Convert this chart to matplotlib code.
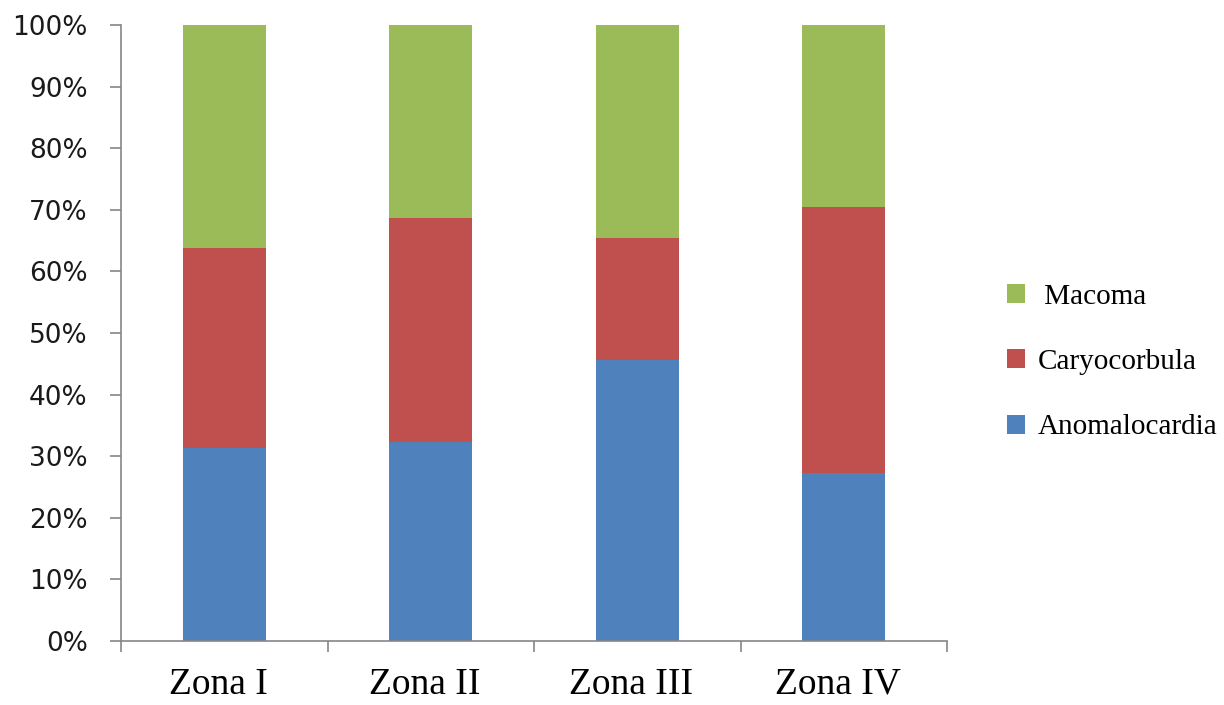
import numpy as np
import matplotlib.pyplot as plt
from matplotlib.ticker import FixedLocator, NullFormatter

# Composição relativa (%) por zona
zonas = ["Zona I", "Zona II", "Zona III", "Zona IV"]
anomalocardia = [31.3, 32.3, 45.6, 27.3]
caryocorbula = [32.5, 36.4, 19.8, 43.2]
macoma = [36.2, 31.3, 34.6, 29.5]

cor_azul = "#4f81bd"
cor_vermelho = "#c0504d"
cor_verde = "#9bbb59"
cor_eixo = "#868686"

fig = plt.figure(figsize=(12.24, 7.05), dpi=100)
ax = fig.add_axes([121 / 1224, 64 / 705, 826 / 1224, 616 / 705])

x = np.arange(len(zonas))
base2 = np.array(anomalocardia)
base3 = base2 + np.array(caryocorbula)

b1 = ax.bar(x, anomalocardia, width=0.40, color=cor_azul, label="Anomalocardia")
b2 = ax.bar(x, caryocorbula, width=0.40, bottom=base2, color=cor_vermelho, label="Caryocorbula")
b3 = ax.bar(x, macoma, width=0.40, bottom=base3, color=cor_verde, label="Macoma")

ax.set_xlim(-0.5, len(zonas) - 0.5)
ax.set_ylim(0, 100)

# eixo y em percentagem
ax.set_yticks(np.arange(0, 101, 10))
ax.set_yticklabels([f"{v}%" for v in range(0, 101, 10)],
                   fontsize=19, family="DejaVu Sans", color="#1a1a1a")
ax.tick_params(axis="y", direction="out", length=8, width=1.2, color=cor_eixo, pad=16)

# eixo x: marcas entre categorias
ax.set_xticks(x - 0.03)
ax.set_xticklabels(zonas, fontsize=27, family="Liberation Serif")
ax.tick_params(axis="x", which="major", length=0, pad=19)
ax.xaxis.set_minor_locator(FixedLocator(np.arange(-0.5, len(zonas), 1.0)))
ax.xaxis.set_minor_formatter(NullFormatter())
ax.tick_params(axis="x", which="minor", direction="out", length=8, width=1.2, color=cor_eixo)

for s in ["top", "right"]:
    ax.spines[s].set_visible(False)
for s in ["left", "bottom"]:
    ax.spines[s].set_color(cor_eixo)
    ax.spines[s].set_linewidth(1.2)

leg = fig.legend(handles=[b3, b2, b1], labels=[" Macoma", "Caryocorbula", "Anomalocardia"],
                 loc="center left", bbox_to_anchor=(0.8015, 0.4865), frameon=False,
                 prop={"family": "Liberation Serif", "size": 21},
                 handlelength=0.62, handleheight=0.62, handletextpad=0.41,
                 labelspacing=1.35)

fig.savefig("out.png", dpi=100, facecolor="white")
